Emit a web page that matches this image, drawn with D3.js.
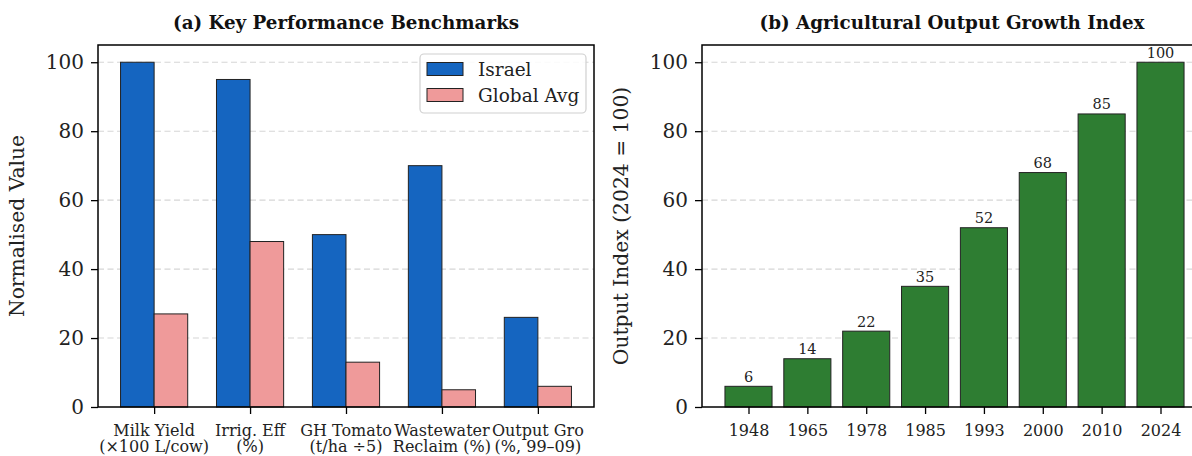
<!DOCTYPE html>
<html><head><meta charset="utf-8">
<script src="https://cdn.jsdelivr.net/npm/d3@7"></script>
<style>
body{margin:0;background:#fff;}
svg{display:block;font-family:"DejaVu Serif",serif;}
</style></head>
<body><svg id="c" width="1192" height="456"></svg>
<script>
const benchCategories = [["Milk Yield","(×100 L/cow)"],["Irrig. Eff","(%)"],["GH Tomato","(t/ha ÷5)"],["Wastewater","Reclaim (%)"],["Output Gro","(%, 99–09)"]];
const israelValues = [100, 95, 50, 70, 26];
const globalValues = [27, 48, 13, 5, 6];
const seriesNames = ["Israel", "Global Avg"];
const years = ["1948","1965","1978","1985","1993","2000","2010","2024"];
const outputIndex = [6, 14, 22, 35, 52, 68, 85, 100];
const yTicks = [0, 20, 40, 60, 80, 100];

(function(){
const svg = d3.select("#c");
const C_BLUE = "#1565C0", C_PINK = "#EF9A9A", C_GREEN = "#2E7D32", EDGE = "#222";
const T = 45, B = 407;
const TICK = 7;

function frame(g, x0, x1, y, ylabel, ylabX) {
  g.append("g").selectAll("line").data(yTicks.filter(d=>d>0)).join("line")
    .attr("x1", x0).attr("x2", x1).attr("y1", d=>y(d)).attr("y2", d=>y(d))
    .attr("stroke", "#cfcfcf").attr("stroke-width", 1.1).attr("stroke-dasharray", "6,3.5").attr("opacity", 0.85);
  g.append("text").attr("transform", `translate(${ylabX},${(T+B)/2}) rotate(-90)`)
    .attr("text-anchor","middle").attr("font-size", 20.3).attr("fill","#222").text(ylabel);
}
function title(g, cx, txt) {
  g.append("text").attr("x", cx).attr("y", 29).attr("text-anchor","middle")
    .attr("font-size", 18.3).attr("font-weight","bold").attr("fill","#111").text(txt);
}
function axesBox(g, x0, x1) {
  g.append("rect").attr("x", x0).attr("y", T).attr("width", x1-x0).attr("height", B-T)
    .attr("fill","none").attr("stroke","#000").attr("stroke-width",1.5);
}
function yAxis(g, x0, y) {
  const ax = g.append("g").attr("transform", `translate(${x0},0)`)
    .call(d3.axisLeft(y).tickValues(yTicks).tickSize(TICK).tickPadding(7));
  ax.select(".domain").remove();
  ax.selectAll("line").attr("stroke","#000").attr("stroke-width",1.3);
  ax.selectAll("text").attr("font-size",20).attr("font-family","DejaVu Serif").attr("fill","#222");
}

// ---------- Panel (a)
const xa = d3.scaleLinear().domain([-0.585, 4.585]).range([98, 594]);
const ya = d3.scaleLinear().domain([0, 105]).range([B, T]);
const ga = svg.append("g");
frame(ga, 98, 594, ya, "Normalised Value", 24);
title(ga, 346, "(a) Key Performance Benchmarks");
const bw = 0.35;
ga.append("g").selectAll("rect").data(israelValues).join("rect")
  .attr("x", (d,i)=>xa(i-bw)).attr("width", xa(bw)-xa(0))
  .attr("y", d=>ya(d)).attr("height", d=>ya(0)-ya(d))
  .attr("fill", C_BLUE).attr("stroke", EDGE).attr("stroke-width", 1);
ga.append("g").selectAll("rect").data(globalValues).join("rect")
  .attr("x", (d,i)=>xa(i)).attr("width", xa(bw)-xa(0))
  .attr("y", d=>ya(d)).attr("height", d=>ya(0)-ya(d))
  .attr("fill", C_PINK).attr("stroke", EDGE).attr("stroke-width", 1);
axesBox(ga, 98, 594);
yAxis(ga, 98, ya);
const xaAx = ga.append("g").attr("transform", `translate(0,${B})`)
  .call(d3.axisBottom(xa).tickValues(d3.range(benchCategories.length)).tickSize(TICK).tickFormat(""));
xaAx.select(".domain").remove();
xaAx.selectAll("line").attr("stroke","#000").attr("stroke-width",1.3);
benchCategories.forEach((lines,i)=>{
  const t = ga.append("text").attr("text-anchor","middle")
    .attr("font-size",16).attr("fill","#222");
  lines.forEach((l,j)=> t.append("tspan").attr("x", xa(i)).attr("y", 435.5 + j*16.8).text(l));
});
// legend
const lg = ga.append("g");
lg.append("rect").attr("x", 420).attr("y", 54).attr("width", 166).attr("height", 59).attr("rx",4)
  .attr("fill","#fff").attr("fill-opacity",0.85).attr("stroke","#d0d0d0").attr("stroke-width",1.2);
[[C_BLUE, seriesNames[0]],[C_PINK, seriesNames[1]]].forEach(([c,n],i)=>{
  lg.append("rect").attr("x", 427).attr("y", 62.5+i*26).attr("width", 36).attr("height", 13)
    .attr("fill", c).attr("stroke", EDGE).attr("stroke-width",1);
  lg.append("text").attr("x", 478).attr("y", 75.5+i*26.5).attr("font-size",18.5).attr("fill","#222").text(n);
});

// ---------- Panel (b)
const xb = d3.scaleLinear().domain([-0.79, 7.79]).range([702, 1207]);
const yb = d3.scaleLinear().domain([0, 105]).range([B, T]);
const gb = svg.append("g");
frame(gb, 702, 1207, yb, "Output Index (2024 = 100)", 628);
title(gb, 952, "(b) Agricultural Output Growth Index");
gb.append("g").selectAll("rect").data(outputIndex).join("rect")
  .attr("x", (d,i)=>xb(i-0.4)).attr("width", xb(0.8)-xb(0))
  .attr("y", d=>yb(d)).attr("height", d=>yb(0)-yb(d))
  .attr("fill", C_GREEN).attr("stroke", EDGE).attr("stroke-width", 1);
gb.append("g").selectAll("text").data(outputIndex).join("text")
  .attr("x", (d,i)=>xb(i)).attr("y", d=>yb(d)-4.5).attr("text-anchor","middle")
  .attr("font-size",14.5).attr("fill","#222").text(d=>d);
axesBox(gb, 702, 1207);
yAxis(gb, 702, yb);
const xbAx = gb.append("g").attr("transform", `translate(0,${B})`)
  .call(d3.axisBottom(xb).tickValues(d3.range(years.length)).tickSize(TICK).tickPadding(10.5).tickFormat(i=>years[i]));
xbAx.select(".domain").remove();
xbAx.selectAll("line").attr("stroke","#000").attr("stroke-width",1.3);
xbAx.selectAll("text").attr("font-size",16).attr("font-family","DejaVu Serif").attr("fill","#222");
})();
</script></body></html>
